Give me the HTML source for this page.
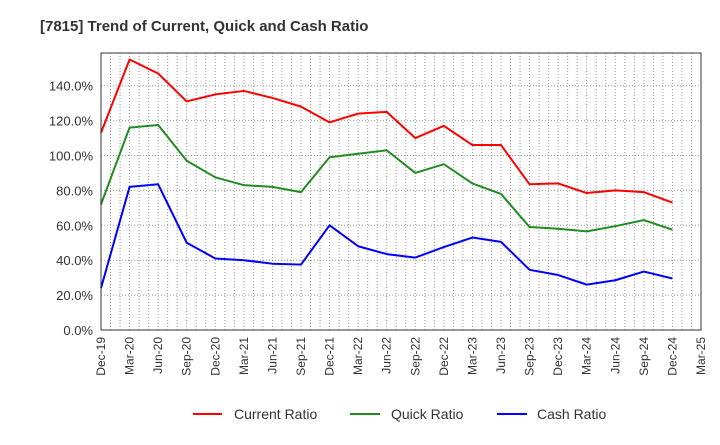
<!DOCTYPE html>
<html><head><meta charset="utf-8"><style>
body{margin:0;background:#fff;font-family:"Liberation Sans",Arial,sans-serif}
</style></head><body>
<svg width="720" height="440" xmlns="http://www.w3.org/2000/svg">
<text x="40" y="31" font-size="15" font-weight="bold" fill="#333">[7815]  Trend of Current, Quick and Cash Ratio</text>
<g id="grid"></g>
<g id="yax"></g>
<g id="xax"></g>
<g id="series"></g>
<rect x="101" y="53" width="600" height="277" fill="none" stroke="#333" stroke-width="1"/>
<g>
<g><line x1="193" y1="414" x2="222" y2="414" stroke="#f00" stroke-width="2"/><text x="234" y="419" font-size="14" fill="#333">Current Ratio</text></g>
<g><line x1="350" y1="414" x2="380" y2="414" stroke="#228b22" stroke-width="2"/><text x="391" y="419" font-size="14" fill="#333">Quick Ratio</text></g>
<g><line x1="497" y1="414" x2="527" y2="414" stroke="#00f" stroke-width="2"/><text x="537" y="419" font-size="14" fill="#333">Cash Ratio</text></g>
</g>
</svg>
<script>
const categories=["Dec-19","Mar-20","Jun-20","Sep-20","Dec-20","Mar-21","Jun-21","Sep-21","Dec-21","Mar-22","Jun-22","Sep-22","Dec-22","Mar-23","Jun-23","Sep-23","Dec-23","Mar-24","Jun-24","Sep-24","Dec-24","Mar-25"];
const currentRatio=[113,155,147,131,135,137,133,128,119,124,125,110,117,106,106,83.5,84,78.5,80,79,73];
const quickRatio=[72,116,117.5,97,87.5,83,82,79,99,101,103,90,95,84,78,59,58,56.5,59.5,63,57.5];
const cashRatio=[24,82,83.5,50,41,40,38,37.5,60,48,43.5,41.5,47.5,53,50.5,34.5,31.5,26,28.5,33.5,29.5];
const yTicks=[0,20,40,60,80,100,120,140];
const NS="http://www.w3.org/2000/svg";
const X0=101,X1=701,Y0=330,PER=34.9/20;
const xs=i=>X0+i*(X1-X0)/21;
const ys=v=>Y0-v*PER;
function mk(t,a,p){const e=document.createElementNS(NS,t);for(const k in a)e.setAttribute(k,a[k]);p.appendChild(e);return e;}
const grid=document.getElementById('grid'),yax=document.getElementById('yax'),xax=document.getElementById('xax'),ser=document.getElementById('series');
for(let m=1;m<63;m++){const x=X0+m*(X1-X0)/63;
const l=mk('line',{x1:x,x2:x,y1:53,y2:330,stroke:'#999','stroke-dasharray':'1,2','stroke-width':1},grid);

}
yTicks.forEach(v=>{const y=ys(v);
if(v>0){const l=mk('line',{x1:X0,x2:X1,y1:y,y2:y,stroke:'#999','stroke-dasharray':'1,2'},grid);

}
const t=mk('text',{x:93,y:y+5,'text-anchor':'end','font-size':13,fill:'#333'},yax);t.textContent=v.toFixed(1)+'%';

});
categories.forEach((c,i)=>{const x=xs(i);
const t=mk('text',{x:0,y:0,'text-anchor':'end','font-size':12,fill:'#333',transform:`translate(${x+4},337) rotate(-90)`},xax);t.textContent=c;

});
[[currentRatio,'#f00','current-ratio-line'],[quickRatio,'#228b22','quick-ratio-line'],[cashRatio,'#00f','cash-ratio-line']].forEach(([d,c,n])=>{
const p=mk('polyline',{points:d.map((v,i)=>xs(i)+','+ys(v)).join(' '),fill:'none',stroke:c,'stroke-width':2,'stroke-linejoin':'round'},ser);

});
</script>
</body></html>
